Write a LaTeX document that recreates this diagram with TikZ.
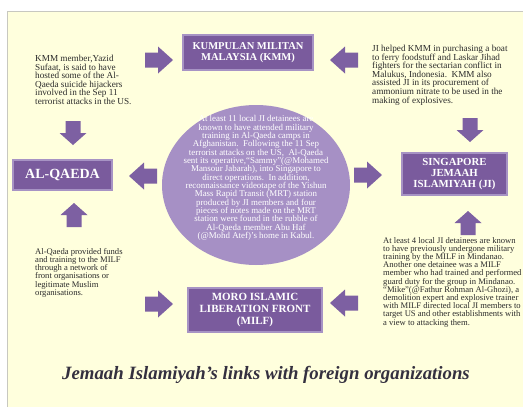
\documentclass[tikz,border=0pt]{standalone}
\usepackage{fontspec}
\setmainfont{Liberation Serif}
\usetikzlibrary{shapes.geometric}

\definecolor{panel}{HTML}{FFFFDD}
\definecolor{paneledge}{HTML}{C8C8C0}
\definecolor{boxfill}{HTML}{7A5B9D}
\definecolor{boxedge}{HTML}{A793C4}
\definecolor{arrowfill}{HTML}{7D60A2}
\definecolor{bubble}{HTML}{A690C5}
\definecolor{ink}{HTML}{2B2B2B}
\definecolor{titleink}{HTML}{34303F}

\tikzset{
  % solid block arrow pointing east, 28 long and 27 wide
  blockarrow/.pic={
    \fill[arrowfill] (-14,-7.5) -- (-1,-7.5) -- (-1,-13.5) -- (14,0)
      -- (-1,13.5) -- (-1,7.5) -- (-14,7.5) -- cycle;
  },
  % shorter variant used for the vertical arrows, 24 long
  blockarrowshort/.pic={
    \fill[arrowfill] (-12,-7.5) -- (0,-7.5) -- (0,-13.5) -- (12,0)
      -- (0,13.5) -- (0,7.5) -- (-12,7.5) -- cycle;
  },
  orgbox/.style={rectangle, fill=boxfill, draw=boxedge, line width=1.5pt,
    text=white, align=center, inner sep=0pt},
  note/.style={text=ink, align=left, inner sep=0pt, anchor=north west,
    font=\fontsize{8.6}{8.2}\selectfont},
  widenote/.style={note, font=\fontsize{9.2}{8.6}\selectfont},
}

\begin{document}
\begin{tikzpicture}[x=1pt,y=-1pt]
\useasboundingbox (0,0) rectangle (523,407);
\fill[white] (0,0) rectangle (523,407);
\fill[panel] (7,11) rectangle (523,407);
\draw[paneledge, line width=1pt] (7,407) -- (7,11) -- (523,11);

% central bubble
\node[ellipse, fill=bubble, minimum width=188pt, minimum height=160pt, inner sep=0pt] (hub) at (256,185) {};
\node[text=white, align=center, inner sep=0pt, font=\fontsize{8.9}{8.35}\selectfont] (hubtext) at (256,178)
 {At least 11 local JI detainees are\\known to have attended military\\training in Al-Qaeda camps in\\Afghanistan.\ \ Following the 11 Sep\\terrorist attacks on the US,\ \ Al-Qaeda\\sent its operative,``Sammy''(@Mohamed\\Mansour Jabarah), into Singapore to\\direct operations.\ \ In addition,\\reconnaissance videotape of the Yishun\\Mass Rapid Transit (MRT) station\\produced by JI members and four\\pieces of notes made on the MRT\\station were found in the rubble of\\Al-Qaeda member Abu Haf\\(@Mohd Atef)'s home in Kabul.};

% organisations
\node[orgbox, minimum width=130pt, minimum height=35pt, font=\bfseries\fontsize{10.5}{11}\selectfont] (kmm) at (248,52.5) {KUMPULAN MILITAN\\MALAYSIA (KMM)};
\node[orgbox, minimum width=99pt, minimum height=30pt, font=\bfseries\fontsize{14}{16}\selectfont] (aq) at (62.5,175) {AL-QAEDA};
\node[orgbox, minimum width=105pt, minimum height=42pt, font=\bfseries\fontsize{10.8}{11.3}\selectfont] (ji) at (454.5,174) {SINGAPORE\\JEMAAH\\ISLAMIYAH (JI)};
\node[orgbox, minimum width=134pt, minimum height=44pt, font=\bfseries\fontsize{11}{11.7}\selectfont] (milf) at (255,310) {MORO ISLAMIC\\LIBERATION FRONT\\(MILF)};

% block arrows
\pic at (159,60) {blockarrow};
\pic[rotate=180] at (344,60) {blockarrow};
\pic[rotate=-90] at (73,133) {blockarrowshort};
\pic[rotate=180] at (143,176) {blockarrow};
\pic[rotate=90] at (74,215) {blockarrowshort};
\pic at (159,304) {blockarrow};
\pic[rotate=180] at (344,303) {blockarrow};
\pic[rotate=-90] at (470,130) {blockarrowshort};
\pic at (368,175) {blockarrow};
\pic[rotate=90] at (468,223) {blockarrowshort};

% notes
\node[widenote] (kmmnote) at (35,55)
 {KMM member,Yazid\\Sufaat, is said to have\\hosted some of the Al-\\Qaeda suicide hijackers\\involved in the Sep 11\\terrorist attacks in the US.};
\node[widenote] (jinote) at (372,45)
 {JI helped KMM in purchasing a boat\\to ferry foodstuff and Laskar Jihad\\fighters for the sectarian conflict in\\Malukus, Indonesia.\ \ KMM also\\assisted JI in its procurement of\\ammonium nitrate to be used in the\\making of explosives.};
\node[note] (aqnote) at (35,248)
 {Al-Qaeda provided funds\\and training to the MILF\\through a network of\\front organisations or\\legitimate Muslim\\organisations.};
\node[note] (milfnote) at (383,237)
 {At least 4 local JI detainees are known\\to have previously undergone military\\training by the MILF in Mindanao.\\Another one detainee was a MILF\\member who had trained and performed\\guard duty for the group in Mindanao.\\``Mike''(@Fathur Rohman Al-Ghozi), a\\demolition expert and explosive trainer\\with MILF directed local JI members to\\target US and other establishments with\\a view to attacking them.};

% caption
\node[text=titleink, inner sep=0pt, font=\bfseries\itshape\fontsize{18.8}{22}\selectfont] (title) at (266,375)
 {Jemaah Islamiyah's links with foreign organizations};
\end{tikzpicture}
\end{document}
